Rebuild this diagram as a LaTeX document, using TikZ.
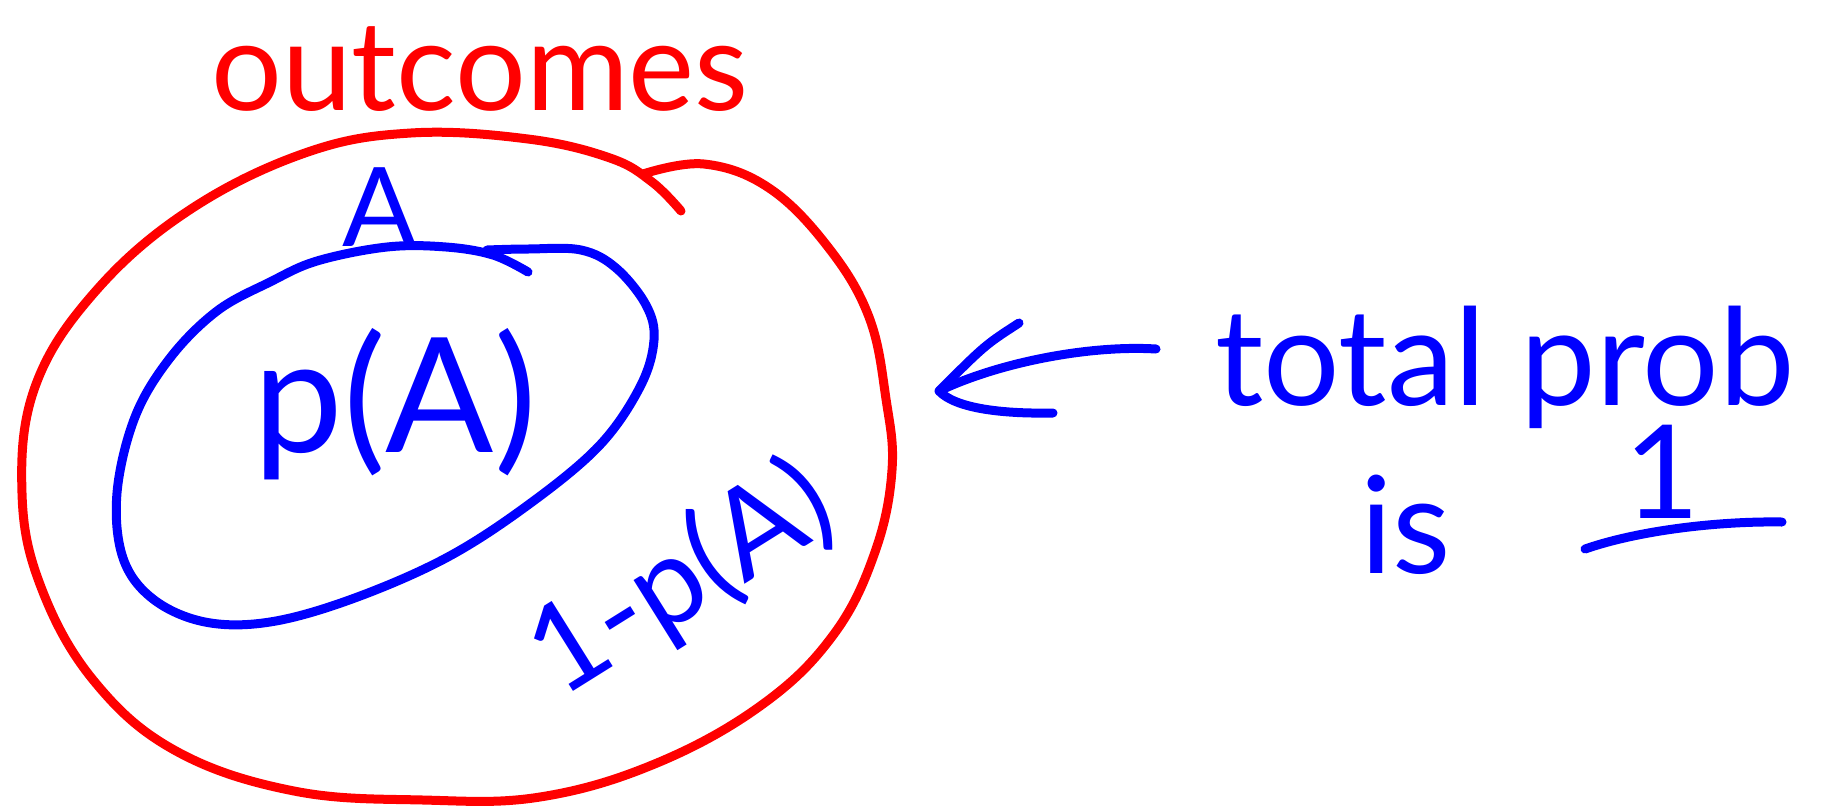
\documentclass[tikz,border=0pt]{standalone}
\usepackage{fontspec}
\setmainfont{Lato}
\begin{document}
\begin{tikzpicture}[x=1pt,y=-1pt,
  redink/.style={draw=red, line width=9pt, line cap=round, line join=round},
  blueink/.style={draw=blue, line width=9pt, line cap=round, line join=round},
  redtext/.style={text=red, font=\fontsize{125}{125}\selectfont, inner sep=0pt},
  bluetext/.style={text=blue, font=\fontsize{135}{135}\selectfont, inner sep=0pt}]
\useasboundingbox (0,0) rectangle (1841,809);

% sample space: the big red loop
\draw[redink] plot[smooth, tension=0.65] coordinates {
  (643,174) (704,164) (769,188) (828,247) (869,317) (886,399) (892,470)
  (875,552) (834,634) (763,704) (657,763) (540,797) (423,800) (294,791)
  (176,751) (94,681) (41,587) (22,493) (35,387) (94,293) (188,211)
  (305,153) (411,133) (528,139) (610,158) (652,182) (681,211)};

% event A: the inner blue loop
\draw[blueink] plot[smooth, tension=0.6] coordinates {
  (528,272) (493,255) (446,247) (387,247) (317,261) (270,282) (217,311)
  (170,358) (135,417) (117,493) (123,558) (153,599) (205,622) (270,622)
  (352,599) (446,558) (528,505) (599,446) (640,387) (654,340) (646,305)
  (616,268) (581,250) (528,249) (487,250)};

% labels
\node[redtext, anchor=base] (outcomes) at (480,110) {outcomes};
\node[bluetext, font=\fontsize{110}{110}\selectfont, anchor=base] (setA) at (380,246) {A};
\node[bluetext, font=\fontsize{160}{160}\selectfont, anchor=base] (pA) at (395,452) {p(A)};
\node[bluetext, font=\fontsize{122}{122}\selectfont, rotate=32] (notA) at (682,580) {1-p(A)};
\node[bluetext, anchor=base] (total) at (1505,405) {total prob};
\node[bluetext, anchor=base] (is) at (1406,573) {is};
\node[bluetext, font=\fontsize{130}{130}\selectfont, anchor=base] (one) at (1662,518) {1};

% arrow pointing at the red loop
\coordinate (arrowtail) at (1156,349);
\coordinate (arrowtip) at (939,391);
\coordinate (headtop) at (1019,323);
\coordinate (headbot) at (1053,413);
\draw[blueink] (arrowtail) .. controls (1090,345) and (1000,362) .. (arrowtip);
\draw[blueink] (headtop) .. controls (985,345) .. (arrowtip)
  .. controls (955,408) and (1000,414) .. (headbot);

% underline of the 1
\coordinate (ulstart) at (1585,549);
\coordinate (ulend) at (1782,522);
\draw[blueink] (ulstart) .. controls (1640,530) and (1720,521) .. (ulend);
\end{tikzpicture}
\end{document}
